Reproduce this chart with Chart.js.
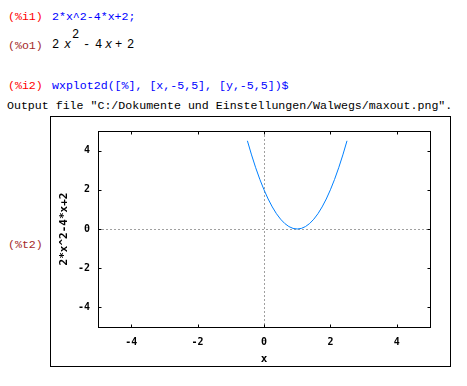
<!DOCTYPE html>
<html>
<head>
<meta charset="utf-8">
<script src="https://cdn.jsdelivr.net/npm/chart.js@4.4.1/dist/chart.umd.min.js"></script>
<style>
    html, body { margin: 0; padding: 0; background: #fff; }
    body { width: 467px; height: 386px; position: relative; overflow: hidden; }
    .t { position: absolute; font-family: 'Liberation Mono', 'Courier New', monospace; font-size: 11.6px; line-height: 13px; white-space: pre; }
    .lbl-in { color: #ff0000; }
    .lbl-out { color: #a52a2a; }
    .inp { color: #0000ff; }
    .m { position: absolute; font-family: 'Liberation Mono', 'Courier New', monospace; font-size: 12px; line-height: 13px; color: #000; }
    .m i { font-style: italic; }
    #frame { position: absolute; left: 50px; top: 116px; width: 399px; height: 249px; border: 1px solid #000; }
    #frame canvas { display: block; }
</style>
</head>
<body>

<div class="t lbl-in" style="left:8px; top:10px;">(%i1)</div>
<div class="t inp" style="left:52px; top:10px;">2*x^2-4*x+2;</div>

<div class="t lbl-out" style="left:8px; top:38.5px;">(%o1)</div>
<div class="m" style="left:52px; top:39px;">2</div>
<div class="m" style="left:64px; top:39px;"><i>x</i></div>
<div class="m" style="left:72px; top:29px;">2</div>
<div class="m" style="left:83px; top:39px;">-</div>
<div class="m" style="left:95px; top:39px;">4</div>
<div class="m" style="left:105px; top:39px;"><i>x</i></div>
<div class="m" style="left:115px; top:39px;">+</div>
<div class="m" style="left:127px; top:39px;">2</div>

<div class="t lbl-in" style="left:8px; top:79px;">(%i2)</div>
<div class="t inp" style="left:52px; top:79px;">wxplot2d([%], [x,-5,5], [y,-5,5])$</div>

<div class="t" style="left:7px; top:99px; color:#000;">Output file "C:/Dokumente und Einstellungen/Walwegs/maxout.png".</div>

<div class="t lbl-out" style="left:8px; top:237.5px;">(%t2)</div>

<div id="frame"><canvas id="plot" width="399" height="249"></canvas></div>

<script>
(function () {
    'use strict';

    // Werte (sichtbarer Teil, y in [-5,5])
    const X_VALS = [-0.5, -0.375, -0.25, -0.125, 0, 0.125, 0.25, 0.375, 0.5, 0.625, 0.75, 0.875,
        1, 1.125, 1.25, 1.375, 1.5, 1.625, 1.75, 1.875, 2, 2.125, 2.25, 2.375, 2.5];
    const Y_VALS = [4.5, 3.78, 3.125, 2.53, 2, 1.53, 1.125, 0.78, 0.5, 0.28, 0.125, 0.03,
        0, 0.03, 0.125, 0.28, 0.5, 0.78, 1.125, 1.53, 2, 2.53, 3.125, 3.78, 4.5];

    const X_TICKS = [-4, -2, 0, 2, 4];
    const Y_TICKS = [-4, -2, 0, 2, 4];
    const X_TITLE = 'x';
    const Y_TITLE = '2*x^2-4*x+2';

    const TICK_FONT = { family: "'DejaVu Sans Mono', monospace", size: 10, weight: 'bold' };
    const TITLE_FONT = { family: "'DejaVu Sans Mono', monospace", size: 11, weight: 'bold', lineHeight: 1.2 };

    // Rahmen, Ticks nach innen (gnuplot-Stil) und gestrichelte Nullachsen
    const gnuplotFrame = {
        id: 'gnuplotFrame',
        beforeDatasetsDraw(chart) {
            const { ctx, chartArea: a, scales: { x, y } } = chart;
            const x0 = Math.round(x.getPixelForValue(0)) + 0.5;
            const y0 = Math.round(y.getPixelForValue(0)) + 0.5;
            ctx.save();
            ctx.strokeStyle = '#a0a0a0';
            ctx.lineWidth = 1;
            ctx.setLineDash([2, 2]);
            ctx.beginPath();
            ctx.moveTo(x0, a.top); ctx.lineTo(x0, a.bottom);
            ctx.moveTo(a.left, y0); ctx.lineTo(a.right, y0);
            ctx.stroke();
            ctx.restore();
        },
        afterDraw(chart) {
            const { ctx, chartArea: a, scales: { x, y } } = chart;
            const L = Math.round(a.left) + 0.5, R = Math.round(a.right) + 0.5;
            const T = Math.round(a.top) + 0.5, B = Math.round(a.bottom) + 0.5;
            ctx.save();
            ctx.strokeStyle = '#000';
            ctx.lineWidth = 1;
            ctx.setLineDash([]);
            ctx.strokeRect(L, T, R - L, B - T);
            ctx.beginPath();
            X_TICKS.forEach(v => {
                const px = Math.round(x.getPixelForValue(v)) + 0.5;
                ctx.moveTo(px, B); ctx.lineTo(px, B - 3);
                ctx.moveTo(px, T); ctx.lineTo(px, T + 3);
            });
            Y_TICKS.forEach(v => {
                const py = Math.round(y.getPixelForValue(v)) + 0.5;
                ctx.moveTo(L, py); ctx.lineTo(L + 3, py);
                ctx.moveTo(R, py); ctx.lineTo(R - 3, py);
            });
            ctx.stroke();
            ctx.restore();
        },
    };

    new Chart(document.getElementById('plot'), {
        type: 'line',
        data: {
            datasets: [{
                data: X_VALS.map((v, i) => ({ x: v, y: Y_VALS[i] })),
                borderColor: '#0080ff',
                borderWidth: 1,
                pointRadius: 0,
                tension: 0,
                fill: false,
            }],
        },
        options: {
            responsive: false,
            animation: false,
            layout: { padding: { top: 13, right: 20, left: 0, bottom: 0 } },
            plugins: {
                legend: { display: false },
                tooltip: { enabled: false },
            },
            scales: {
                x: {
                    type: 'linear',
                    min: -5,
                    max: 5,
                    afterBuildTicks: s => { s.ticks = X_TICKS.map(v => ({ value: v })); },
                    afterFit: s => { s.height = 39; },
                    grid: { display: false, drawTicks: false },
                    border: { display: false },
                    ticks: { color: '#000', font: TICK_FONT, padding: 9, maxRotation: 0 },
                    title: { display: true, text: X_TITLE, color: '#000', font: TITLE_FONT, padding: 0 },
                },
                y: {
                    type: 'linear',
                    min: -5,
                    max: 5,
                    afterBuildTicks: s => { s.ticks = Y_TICKS.map(v => ({ value: v })); },
                    afterFit: s => { s.width = 47; },
                    grid: { display: false, drawTicks: false },
                    border: { display: false },
                    ticks: { color: '#000', font: TICK_FONT, padding: 8 },
                    title: { display: true, text: Y_TITLE, color: '#000', font: TITLE_FONT, padding: { top: 7, bottom: 0 } },
                },
            },
        },
        plugins: [gnuplotFrame],
    });
})();
</script>
</body>
</html>
